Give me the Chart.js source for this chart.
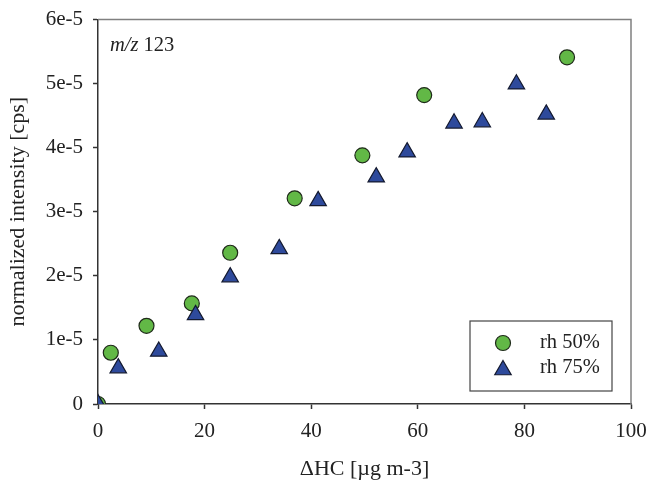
<!DOCTYPE html>
<html>
<head>
<meta charset="utf-8">
<script src="https://cdn.jsdelivr.net/npm/chart.js@4"></script>
<style>
  html, body { margin: 0; padding: 0; background: #fff; }
  #wrap { width: 650px; height: 484px; }
</style>
</head>
<body>
<div id="wrap"><canvas id="chart"></canvas></div>
<script>
// rh 50% (circles)
const rh50X = [0, 2.4, 9.1, 17.6, 24.8, 36.9, 49.6, 61.2, 88.0];
const rh50Y = [0, 0.80e-5, 1.22e-5, 1.57e-5, 2.36e-5, 3.21e-5, 3.88e-5, 4.82e-5, 5.41e-5];
// rh 75% (triangles)
const rh75X = [0, 3.8, 11.4, 18.3, 24.8, 34.0, 41.3, 52.2, 58.0, 66.8, 72.1, 78.5, 84.1];
const rh75Y = [0, 0.56e-5, 0.82e-5, 1.39e-5, 1.98e-5, 2.42e-5, 3.17e-5, 3.54e-5, 3.93e-5, 4.38e-5, 4.40e-5, 4.99e-5, 4.52e-5];

const yTickLabels = ["0", "1e-5", "2e-5", "3e-5", "4e-5", "5e-5", "6e-5"];
const seriesNames = ["rh 50%", "rh 75%"];

const toPoints = (xs, ys) => xs.map((x, i) => ({ x: x, y: ys[i] }));

const serif = "'Liberation Serif', 'Times New Roman', serif";
const axisColor = "#333";

// top/right frame, m/z label and the legend box inside the plot
const extras = {
  id: "extras",
  afterDraw(chart) {
    const ctx = chart.ctx;
    const a = chart.chartArea;
    ctx.save();
    ctx.strokeStyle = "#808080";
    ctx.lineWidth = 1.5;
    ctx.beginPath();
    ctx.moveTo(a.left, a.top);
    ctx.lineTo(a.right, a.top);
    ctx.lineTo(a.right, a.bottom);
    ctx.stroke();

    // m/z 123
    ctx.fillStyle = "#222";
    ctx.textBaseline = "alphabetic";
    ctx.font = "italic 20.5px " + serif;
    ctx.fillText("m/z", a.left + 12, a.top + 31);
    const w = ctx.measureText("m/z ").width;
    ctx.font = "20.5px " + serif;
    ctx.fillText("123", a.left + 12 + w, a.top + 31);

    // legend
    const bx = a.right - 161, by = a.bottom - 83, bw = 142, bh = 70;
    ctx.strokeStyle = "#444";
    ctx.lineWidth = 1.2;
    ctx.strokeRect(bx, by, bw, bh);
    chart.data.datasets.forEach((ds, i) => {
      const cy = by + 22 + i * 25;
      const x = bx + 33;
      ctx.fillStyle = ds.backgroundColor;
      ctx.strokeStyle = ds.borderColor;
      ctx.lineWidth = ds.borderWidth;
      ctx.beginPath();
      if (ds.pointStyle === "triangle") {
        const r = ds.pointRadius, y = cy + 2;
        ctx.moveTo(x, y - r);
        ctx.lineTo(x + r * 0.866, y + r / 2);
        ctx.lineTo(x - r * 0.866, y + r / 2);
        ctx.closePath();
      } else {
        ctx.arc(x, cy, ds.pointRadius, 0, Math.PI * 2);
      }
      ctx.fill();
      ctx.stroke();
      ctx.fillStyle = "#222";
      ctx.font = "20.5px " + serif;
      ctx.textBaseline = "middle";
      ctx.fillText(ds.label, bx + 70, cy);
    });
    ctx.restore();
  }
};

new Chart(document.getElementById("chart"), {
  type: "scatter",
  data: {
    datasets: [
      {
        label: seriesNames[0],
        data: toPoints(rh50X, rh50Y),
        pointStyle: "circle",
        pointRadius: 7.5,
        pointHoverRadius: 7.5,
        backgroundColor: "#62B846",
        borderColor: "#1f2a1a",
        borderWidth: 1.2,
        order: 1,
      },
      {
        label: seriesNames[1],
        data: toPoints(rh75X, rh75Y),
        pointStyle: "triangle",
        pointRadius: 9.5,
        pointHoverRadius: 9.5,
        backgroundColor: "#2E4A9C",
        borderColor: "#141a30",
        borderWidth: 1.2,
        order: 0,
      },
    ],
  },
  options: {
    responsive: true,
    maintainAspectRatio: false,
    animation: false,
    layout: { padding: { top: 19.5, right: 19, left: 0, bottom: 0 } },
    plugins: {
      legend: { display: false },
      tooltip: { enabled: false },
    },
    scales: {
      x: {
        type: "linear",
        min: 0,
        max: 100,
        afterFit: (s) => { s.height = 80; s.paddingLeft = 0; s.paddingRight = 0; },
        ticks: { stepSize: 20, color: "#222", padding: 10, font: { family: serif, size: 21 } },
        grid: { drawOnChartArea: false, drawTicks: true, tickLength: 5, tickColor: axisColor, tickWidth: 1.5 },
        border: { color: axisColor, width: 1.5 },
        title: { display: true, text: "ΔHC [µg m-3]", color: "#222", padding: { bottom: 2 }, font: { family: serif, size: 22 } },
      },
      y: {
        type: "linear",
        min: 0,
        max: 6e-5,
        afterFit: (s) => { s.width = 98; s.paddingTop = 0; s.paddingBottom = 0; },
        ticks: {
          stepSize: 1e-5,
          color: "#222",
          padding: 10,
          font: { family: serif, size: 21 },
          callback: (v, i) => yTickLabels[i],
        },
        grid: { drawOnChartArea: false, drawTicks: true, tickLength: 5, tickColor: axisColor, tickWidth: 1.5 },
        border: { color: axisColor, width: 1.5 },
        title: { display: true, text: "normalized intensity [cps]", color: "#222", padding: { top: 5 }, font: { family: serif, size: 22 } },
      },
    },
  },
  plugins: [extras],
});
</script>
</body>
</html>
